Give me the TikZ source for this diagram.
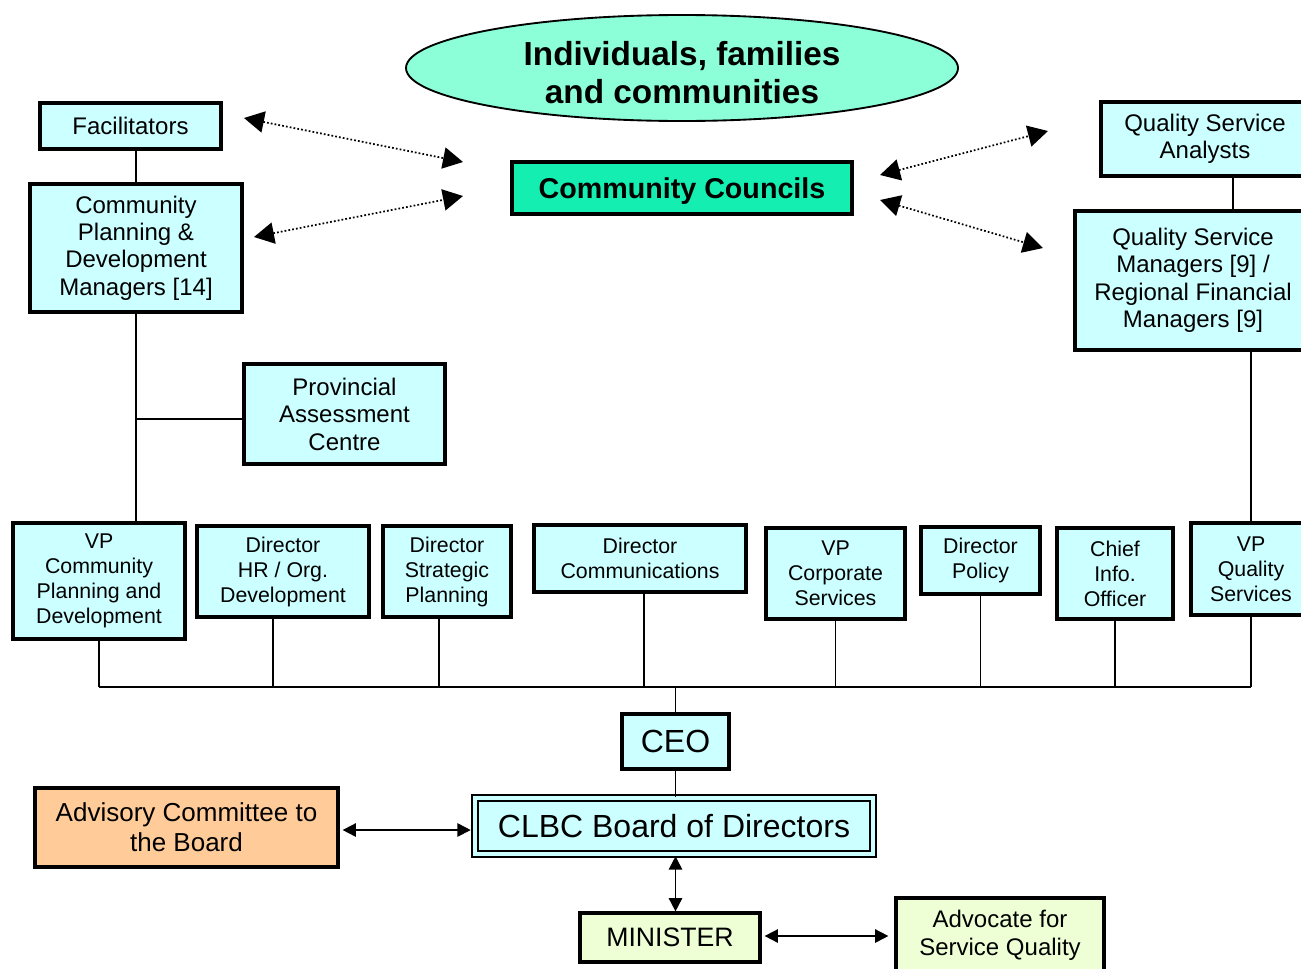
\documentclass[tikz,border=0pt]{standalone}
\usepackage{fontspec}
\setmainfont{Liberation Sans}
\usetikzlibrary{arrows.meta,shapes.geometric}
\definecolor{boxcyan}{HTML}{CCFFFF}
\definecolor{ellfill}{HTML}{8CFFD9}
\definecolor{ccfill}{HTML}{14EEB0}
\definecolor{advfill}{HTML}{FFCC99}
\definecolor{minfill}{HTML}{EEFFD6}
\def\u{0.75pt}
\tikzset{
  orgbox/.style={draw=black, line width=2.4pt, fill=boxcyan, align=center, inner sep=0pt},
  bigtxt/.style={font=\fontsize{18}{20.6}\selectfont},
  rowtxt/.style={font=\fontsize{16}{18.75}\selectfont},
  conn/.style={line width=1.1pt},
  dotarrow/.style={line width=1.3pt, dash pattern=on 1.3pt off 1.6pt, {Triangle[length=15pt,width=16pt]}-{Triangle[length=15pt,width=16pt]}, shorten <=0pt, shorten >=0pt},
  solarrow/.style={line width=1.3pt, {Triangle[length=10pt,width=10pt]}-{Triangle[length=10pt,width=10pt]}},
}
\begin{document}
\begin{tikzpicture}[x=0.75pt,y=-0.75pt]
\useasboundingbox (0,0) rectangle (1301,968);

% top
\node[ellipse, draw=black, line width=1.4pt, fill=ellfill, minimum width=552*\u, minimum height=106*\u, inner sep=0pt] (ell) at (682,68) {};
\node[align=center, inner sep=0pt, font=\bfseries\fontsize{25}{28.5}\selectfont] (elltxt) at (682,73) {Individuals, families\\and communities};
\node[draw=black, line width=2.4pt, fill=ccfill, minimum width=340*\u, minimum height=52*\u, inner sep=0pt, text height=17pt, text depth=2pt, font=\bfseries\fontsize{21.5}{24}\selectfont] (cc) at (682,188) {Community Councils};

\node[orgbox, bigtxt, minimum width=181*\u, minimum height=46*\u] (fac) at (130.5,126) {Facilitators};
\node[orgbox, bigtxt, minimum width=212*\u, minimum height=128*\u] (cpdm) at (136,248) {Community\\Planning \&\\Development\\Managers [14]};
\node[orgbox, bigtxt, minimum width=201*\u, minimum height=100*\u] (pac) at (344.5,414) {Provincial\\Assessment\\Centre};
\node[orgbox, bigtxt, minimum width=208*\u, minimum height=74*\u] (qsa) at (1205,139) {Quality Service\\Analysts};
\node[orgbox, bigtxt, minimum width=236*\u, minimum height=139*\u] (qsm) at (1193,280.5) {Quality Service\\Managers [9] /\\Regional Financial\\Managers [9]};

% row
\node[orgbox, rowtxt, minimum width=172*\u, minimum height=116*\u] (vpcpd) at (99,581) {VP\\Community\\Planning and\\Development};
\node[orgbox, rowtxt, minimum width=172*\u, minimum height=91*\u] (hr) at (283,571.5) {Director\\HR / Org.\\Development};
\node[orgbox, rowtxt, minimum width=128*\u, minimum height=91*\u] (sp) at (447,571.5) {Director\\Strategic\\Planning};
\node[orgbox, rowtxt, minimum width=212*\u, minimum height=67*\u] (com) at (640,558.5) {Director\\Communications};
\node[orgbox, rowtxt, minimum width=139*\u, minimum height=91*\u] (vpcs) at (835.5,573.5) {VP\\Corporate\\Services};
\node[orgbox, rowtxt, minimum width=119*\u, minimum height=67*\u] (pol) at (980.5,560.5) {Director\\Policy};
\node[orgbox, rowtxt, minimum width=116*\u, minimum height=91*\u] (cio) at (1115,573.5) {Chief\\Info.\\Officer};
\node[orgbox, rowtxt, minimum width=120*\u, minimum height=92*\u] (vpq) at (1251,569) {VP\\Quality\\Services};

% lower
\node[orgbox, minimum width=107*\u, minimum height=55*\u, font=\fontsize{24}{27}\selectfont] (ceo) at (675.5,741.5) {CEO};
\node[draw=black, line width=1.9pt, double=boxcyan, double distance=2.4pt, fill=boxcyan, minimum width=398*\u, minimum height=56*\u, inner sep=0pt, font=\fontsize{24}{27}\selectfont] (board) at (674,826) {CLBC Board of Directors};
\node[orgbox, fill=advfill, minimum width=303*\u, minimum height=79*\u, font=\fontsize{19.5}{22.5}\selectfont] (adv) at (186.5,827.5) {Advisory Committee to\\the Board};
\node[orgbox, fill=minfill, minimum width=180*\u, minimum height=49*\u, font=\fontsize{20}{23}\selectfont] (min) at (670,937.5) {MINISTER};
\node[orgbox, fill=minfill, minimum width=208*\u, minimum height=74*\u, font=\fontsize{18}{21}\selectfont] (advoc) at (1000,935) {Advocate for\\Service Quality};

% tree connectors
\coordinate (bus) at (676,687);
\coordinate (qx) at (1233,0);
\draw[conn] (fac.south -| cpdm) -- (cpdm.north);
\draw[conn] (cpdm.south) -- (cpdm.south |- vpcpd.north);
\draw[conn] (pac.west |- 0,419) -- (cpdm.south |- 0,419);
\draw[conn] (qsa.south -| qx) -- (qsm.north -| qx);
\draw[conn] (qsm.south -| vpq) -- (vpq.north);

\draw[conn] (vpcpd.south |- bus) -- (vpq.south |- bus);
\draw[conn] (vpcpd.south) -- (vpcpd.south |- bus);
\draw[conn] ([xshift=-10*\u]hr.south) -- ([xshift=-10*\u]hr.south |- bus);
\draw[conn] ([xshift=-8*\u]sp.south) -- ([xshift=-8*\u]sp.south |- bus);
\draw[conn] ([xshift=4*\u]com.south) -- ([xshift=4*\u]com.south |- bus);
\draw[conn] (vpcs.south) -- (vpcs.south |- bus);
\draw[conn] (pol.south) -- (pol.south |- bus);
\draw[conn] (cio.south) -- (cio.south |- bus);
\draw[conn] (vpq.south) -- (vpq.south |- bus);
\draw[conn] (ceo.north) -- (ceo.north |- bus);
\draw[conn] (ceo.south) -- (ceo.south |- board.north);

% solid arrows
\draw[solarrow, shorten <=3*\u, shorten >=3*\u] (adv.east |- 0,830) -- (board.west |- 0,830);
\draw[solarrow, shorten <=1*\u] (board.south -| ceo) -- (min.north -| ceo);
\draw[solarrow, shorten <=3*\u, shorten >=6*\u] (min.east |- 0,936) -- (advoc.west |- 0,936);

% dotted arrows
\coordinate (d1a) at (244,118);
\coordinate (d1b) at (463,162);
\coordinate (d2a) at (254,237);
\coordinate (d2b) at (463,196);
\coordinate (d3a) at (880,175);
\coordinate (d3b) at (1048,131);
\coordinate (d4a) at (880,200);
\coordinate (d4b) at (1043,248);
\draw[dotarrow] (d1a) -- (d1b);
\draw[dotarrow] (d2a) -- (d2b);
\draw[dotarrow] (d3a) -- (d3b);
\draw[dotarrow] (d4a) -- (d4b);
\end{tikzpicture}
\end{document}
